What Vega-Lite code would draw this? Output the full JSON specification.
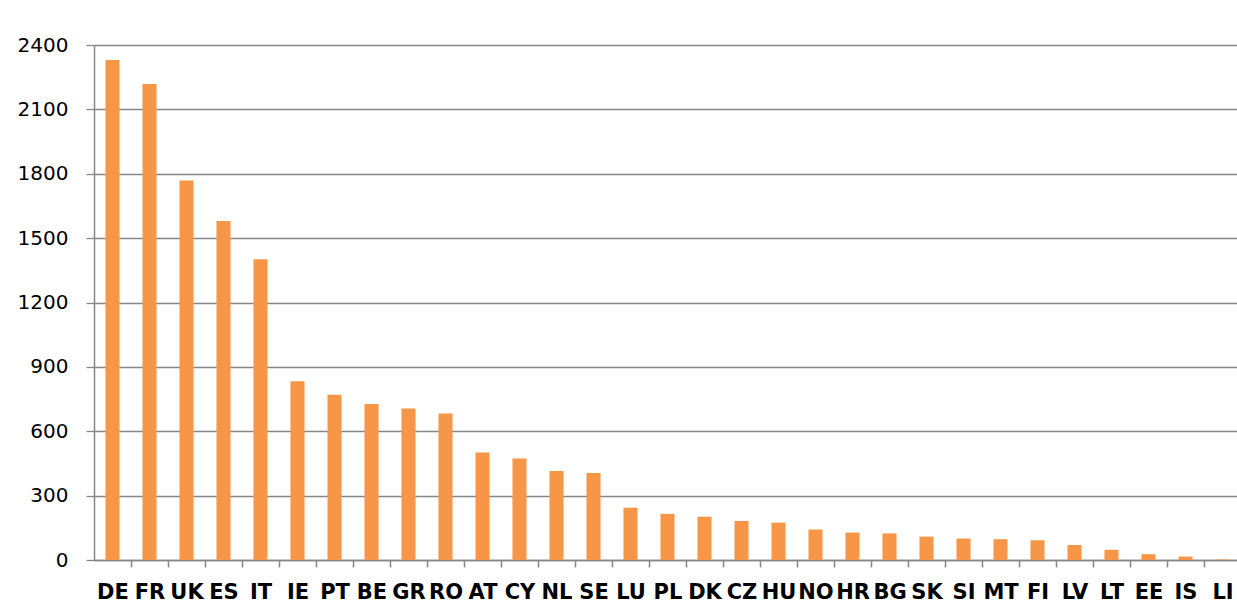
{
  "$schema": "https://vega.github.io/schema/vega-lite/v6.json",
  "autosize": {"type": "none"},
  "padding": {"left": 94, "top": 45, "right": 0, "bottom": 52},
  "width": 1143,
  "height": 515,
  "background": "white",
  "data": {
    "values": [
      {"country": "DE", "value": 2330},
      {"country": "FR", "value": 2218},
      {"country": "UK", "value": 1769},
      {"country": "ES", "value": 1580},
      {"country": "IT", "value": 1402},
      {"country": "IE", "value": 833},
      {"country": "PT", "value": 770},
      {"country": "BE", "value": 727},
      {"country": "GR", "value": 706},
      {"country": "RO", "value": 683},
      {"country": "AT", "value": 501},
      {"country": "CY", "value": 473},
      {"country": "NL", "value": 415},
      {"country": "SE", "value": 406},
      {"country": "LU", "value": 244},
      {"country": "PL", "value": 215},
      {"country": "DK", "value": 202},
      {"country": "CZ", "value": 182},
      {"country": "HU", "value": 174},
      {"country": "NO", "value": 142},
      {"country": "HR", "value": 128},
      {"country": "BG", "value": 124},
      {"country": "SK", "value": 109},
      {"country": "SI", "value": 100},
      {"country": "MT", "value": 97},
      {"country": "FI", "value": 92},
      {"country": "LV", "value": 70},
      {"country": "LT", "value": 48},
      {"country": "EE", "value": 27},
      {"country": "IS", "value": 16},
      {"country": "LI", "value": 2}
    ]
  },
  "mark": {"type": "bar", "color": "#F79646"},
  "encoding": {
    "x": {
      "field": "country",
      "type": "nominal",
      "sort": null,
      "scale": {"type": "band", "range": [0, 1184], "paddingInner": 0.62, "paddingOuter": 0.31, "domain": ["DE","FR","UK","ES","IT","IE","PT","BE","GR","RO","AT","CY","NL","SE","LU","PL","DK","CZ","HU","NO","HR","BG","SK","SI","MT","FI","LV","LT","EE","IS","LI","XX"]},
      "axis": {
        "title": null,
        "labelAngle": 0,
        "labelFont": "DejaVu Sans",
        "labelFontWeight": "bold",
        "labelFontSize": 21,
        "labelColor": "#000000",
        "labelPadding": 14,
        "labelOffset": -18.5,
        "labelExpr": "datum.value == 'XX' ? '' : datum.value",
        "tickOffset": 18.5,
        "tickSize": 7,
        "tickColor": "#868686",
        "tickWidth": 1.5,
        "domainColor": "#868686",
        "domainWidth": 1.5,
        "grid": false
      }
    },
    "y": {
      "field": "value",
      "type": "quantitative",
      "scale": {"domain": [0, 2400], "nice": false},
      "axis": {
        "title": null,
        "values": [0, 300, 600, 900, 1200, 1500, 1800, 2100, 2400],
        "format": "d",
        "labelFont": "DejaVu Sans",
        "labelFontSize": 20,
        "labelColor": "#000000",
        "labelPadding": 18,
        "tickSize": 8,
        "tickColor": "#868686",
        "tickWidth": 1.3,
        "domainColor": "#868686",
        "domainWidth": 1.5,
        "grid": true,
        "gridColor": "#868686",
        "gridWidth": 1.3,
        "gridOpacity": 1
      }
    }
  },
  "config": {"view": {"stroke": null}}
}
